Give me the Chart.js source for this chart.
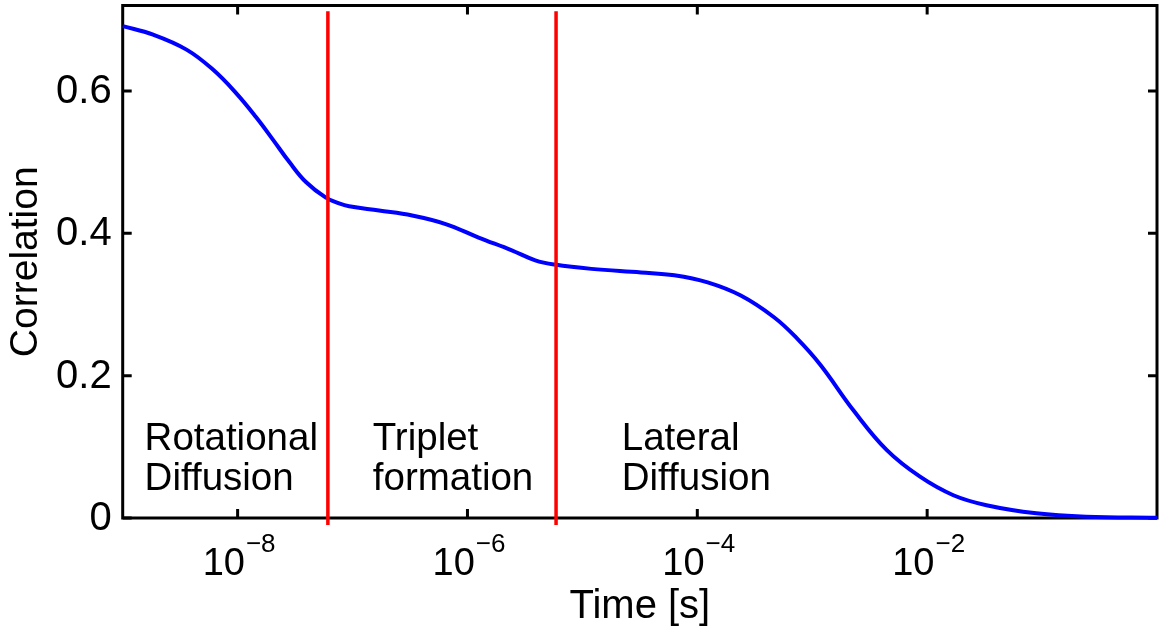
<!DOCTYPE html>
<html>
<head>
<meta charset="utf-8">
<script src="https://cdn.jsdelivr.net/npm/chart.js@4/dist/chart.umd.min.js"></script>
<style>
  html, body { margin: 0; padding: 0; background: #fff; }
  canvas { display: block; }
</style>
</head>
<body>
<canvas id="c" width="1161" height="626"></canvas>
<script>
// ---- data ----
const times = [1.0e-9, 1.84e-9, 3.59e-9, 6.1e-9, 9.7e-9, 1.45e-8, 2.02e-8, 2.82e-8, 3.93e-8, 5.86e-8,
  7.64e-8, 9.33e-8, 1.70e-7, 3.30e-7, 6.46e-7, 1.25e-6, 2.43e-6, 3.89e-6, 5.75e-6, 1.20e-5,
  3.24e-5, 6.31e-5, 1.23e-4, 2.39e-4, 4.65e-4, 7.40e-4, 1.18e-3, 2.29e-3, 4.46e-3, 8.67e-3,
  1.69e-2, 3.28e-2, 8.9e-2, 0.241, 1.0];
const correlation = [0.691, 0.679, 0.658, 0.630, 0.597, 0.563, 0.532, 0.500, 0.472, 0.450,
  0.442, 0.438, 0.432, 0.425, 0.413, 0.394, 0.376, 0.362, 0.356, 0.350,
  0.345, 0.341, 0.331, 0.3125, 0.282, 0.252, 0.215, 0.151, 0.0953, 0.058,
  0.032, 0.018, 0.0066, 0.0018, 0.0004];
const boundaryTimes = [6.1e-8, 5.9e-6];
const boundarySpan = [-0.0098, 0.712];
const xTickExponents = [-8, -6, -4, -2];
const yTickValues = [0, 0.2, 0.4, 0.6];
const yTickLabels = ['0', '0.2', '0.4', '0.6'];
const regionLabels = [['Rotational', 'Diffusion'], ['Triplet', 'formation'], ['Lateral', 'Diffusion']];
const regionAnchorTimes = [1.55e-9, 1.5e-7, 2.2e-5];
const regionLineValues = [0.0953, 0.0392];
const xTitle = 'Time [s]';
const yTitle = 'Correlation';

const FONT = '"Liberation Sans", Arial, Helvetica, sans-serif';

const datasets = [{
  data: times.map((t, i) => ({ x: t, y: correlation[i] })),
  borderColor: '#0000ff',
  borderWidth: 4,
  pointRadius: 0,
  tension: 0.4,
  clip: false,
  order: 2
}];
boundaryTimes.forEach(t => datasets.push({
  data: boundarySpan.map(v => ({ x: t, y: v })),
  borderColor: '#ff0000',
  borderWidth: 3.5,
  pointRadius: 0,
  tension: 0,
  clip: false,
  order: 1
}));

const axesPlugin = {
  id: 'matlabAxes',
  beforeDatasetsDraw(chart) {
    const { ctx, chartArea: a, scales: { x, y } } = chart;
    ctx.save();
    ctx.strokeStyle = '#000';
    ctx.lineWidth = 3;
    ctx.strokeRect(a.left, a.top, a.right - a.left, a.bottom - a.top);
    const tl = 9;
    ctx.beginPath();
    xTickExponents.forEach(e => {
      const px = x.getPixelForValue(Math.pow(10, e));
      ctx.moveTo(px, a.bottom); ctx.lineTo(px, a.bottom - tl);
      ctx.moveTo(px, a.top); ctx.lineTo(px, a.top + tl);
    });
    yTickValues.forEach(v => {
      const py = y.getPixelForValue(v);
      ctx.moveTo(a.left, py); ctx.lineTo(a.left + tl, py);
      ctx.moveTo(a.right, py); ctx.lineTo(a.right - tl, py);
    });
    ctx.stroke();
    ctx.restore();
  },
  afterDraw(chart) {
    const { ctx, chartArea: a, scales: { x, y } } = chart;
    ctx.save();
    ctx.fillStyle = '#000';
    // y tick labels
    ctx.font = '40px ' + FONT;
    ctx.textAlign = 'right';
    ctx.textBaseline = 'middle';
    yTickValues.forEach((v, i) => {
      ctx.fillText(yTickLabels[i], a.left - 11, y.getPixelForValue(v) + 1);
    });
    // x tick labels 10^e
    ctx.textBaseline = 'alphabetic';
    ctx.textAlign = 'left';
    xTickExponents.forEach(e => {
      const px = x.getPixelForValue(Math.pow(10, e));
      ctx.font = '38px ' + FONT;
      const base = '10';
      const wb = ctx.measureText(base).width;
      ctx.font = '26px ' + FONT;
      const sup = '\u2212' + Math.abs(e);
      const ws = ctx.measureText(sup).width;
      const start = px - (wb + ws) / 2 + 1;
      ctx.font = '38px ' + FONT;
      ctx.fillText(base, start, a.bottom + 57);
      ctx.font = '26px ' + FONT;
      ctx.fillText(sup, start + wb + 1, a.bottom + 34);
    });
    // axis titles
    ctx.font = '40px ' + FONT;
    ctx.textAlign = 'center';
    ctx.fillText(xTitle, (a.left + a.right) / 2, a.bottom + 100);
    ctx.font = '39px ' + FONT;
    ctx.save();
    ctx.translate(37, (a.top + a.bottom) / 2);
    ctx.rotate(-Math.PI / 2);
    ctx.fillText(yTitle, 0, 0);
    ctx.restore();
    // region labels
    ctx.font = '38.5px ' + FONT;
    ctx.textAlign = 'left';
    regionLabels.forEach((lines, i) => {
      const px = x.getPixelForValue(regionAnchorTimes[i]);
      lines.forEach((txt, j) => {
        ctx.fillText(txt, px, y.getPixelForValue(regionLineValues[j]));
      });
    });
    ctx.restore();
  }
};

new Chart(document.getElementById('c'), {
  type: 'line',
  data: { datasets },
  options: {
    responsive: false,
    devicePixelRatio: 1,
    animation: false,
    layout: { padding: { left: 122.7, right: 4, top: 5.5, bottom: 108 } },
    plugins: { legend: { display: false }, tooltip: { enabled: false } },
    scales: {
      x: { type: 'logarithmic', min: 1e-9, max: 1, display: false },
      y: { type: 'linear', min: 0, max: 0.72, display: false }
    }
  },
  plugins: [axesPlugin]
});
</script>
</body>
</html>
